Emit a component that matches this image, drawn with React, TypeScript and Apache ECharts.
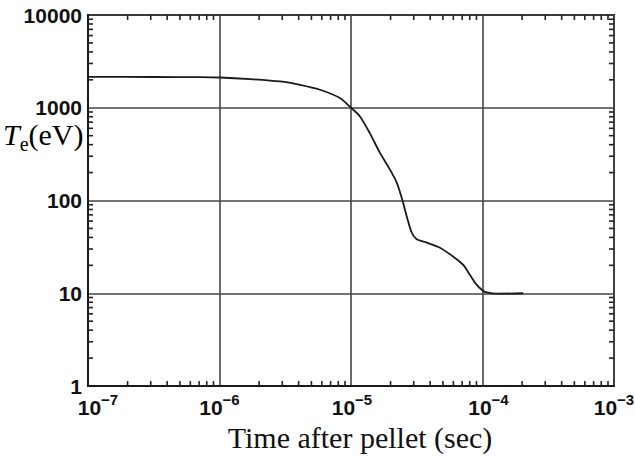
import React, { useEffect, useRef } from "react";
import * as echarts from "echarts";

const timeSec = [
  1e-7, 3.16e-7, 7.11e-7, 1.01e-6, 1.71e-6, 2.88e-6, 4.09e-6, 5.81e-6, 8.24e-6, 1e-5,
  1.17e-5, 1.39e-5, 1.66e-5, 1.98e-5, 2.23e-5, 2.43e-5, 2.65e-5, 2.9e-5, 3.16e-5, 3.77e-5,
  4.75e-5, 6.0e-5, 7.14e-5, 8.04e-5, 9.04e-5, 1.014e-4, 1.08e-4, 1.28e-4, 2.04e-4,
];
const teEv = [
  2150, 2145, 2140, 2120, 2035, 1920, 1766, 1563, 1272, 1000,
  806, 533, 326, 215, 155, 107, 67.8, 44.9, 38.1, 35.1,
  31.0, 24.8, 20.2, 15.7, 12.3, 10.6, 10.2, 9.9, 10.0,
];
const xDecades = [-7, -6, -5, -4];
const yDecades = [0, 1, 2, 3];
const minorMultipliers = [2, 3, 4, 5, 6, 7, 8, 9];

const xMin = 1e-7, xMax = 1e-3, yMin = 1, yMax = 10000;
const sans = "Liberation Sans, Arial, Helvetica, sans-serif";
const serif = "Liberation Serif, Times New Roman, serif";
// extra left offset (px) of each x tick label, as in the reference
const xLabelShift = [20, 0, 2, 12, 0];

export default function App() {
  const ref = useRef<HTMLDivElement>(null);
  useEffect(() => {
    if (!ref.current) return;
    const chart = echarts.init(ref.current, null, { renderer: "svg" });
    const xMinor: number[][] = [];
    xDecades.forEach((d) => minorMultipliers.forEach((m) => xMinor.push([m * Math.pow(10, d), yMin])));
    const yMinor: number[][] = [];
    yDecades.forEach((d) => minorMultipliers.forEach((m) => yMinor.push([xMin, m * Math.pow(10, d)])));
    const tickLen = 5;
    const tickStyle = { stroke: "#222", lineWidth: 1.6 };
    chart.setOption({
      animation: false,
      backgroundColor: "#fff",
      grid: {
        left: 88, right: 21, top: 15, bottom: 71,
        outerBoundsMode: "none",
        containLabel: false,
        show: true, borderColor: "#1a1a1a", borderWidth: 2, backgroundColor: "transparent",
      },
      xAxis: {
        type: "log", logBase: 10, min: xMin, max: xMax,
        axisLine: { show: true, lineStyle: { color: "#1a1a1a", width: 2 } },
        axisTick: { show: false },
        splitLine: { show: true, lineStyle: { color: "#444", width: 1.6 } },
        axisLabel: {
          margin: 6,
          formatter: (v: number, i: number) => {
            const e = Math.round(Math.log10(v));
            const sh = xLabelShift[i] || 0;
            return (sh ? "{g" + sh + "|}" : "") + "{b|10}{s|" + (e < 0 ? "−" + -e : String(e)) + "}";
          },
          rich: {
            b: { fontFamily: sans, fontWeight: "bold", fontSize: 21, color: "#111", lineHeight: 26, verticalAlign: "bottom" },
            s: { fontFamily: sans, fontWeight: "bold", fontSize: 15, color: "#111", lineHeight: 26, verticalAlign: "top" },
            g20: { width: 20, lineHeight: 26 },
            g12: { width: 12, lineHeight: 26 },
            g2: { width: 2, lineHeight: 26 },
          },
        },
        name: "Time after pellet (sec)",
        nameLocation: "middle",
        nameGap: 33,
        nameTextStyle: { fontFamily: serif, fontSize: 30, color: "#111", padding: [0, 0, 0, 18] },
      },
      yAxis: {
        type: "log", logBase: 10, min: yMin, max: yMax,
        axisLine: { show: true, lineStyle: { color: "#1a1a1a", width: 2 } },
        axisTick: { show: false },
        splitLine: { show: true, lineStyle: { color: "#444", width: 1.6 } },
        axisLabel: {
          margin: 6,
          fontFamily: sans,
          fontWeight: "bold", fontSize: 21, color: "#111",
          formatter: (v: number) => String(Math.round(v)),
        },
      },
      graphic: [
        {
          type: "text", left: 3, top: 119,
          style: {
            text: "{T|T}{e|e}{p|(eV)}",
            rich: {
              T: { fontFamily: serif, fontStyle: "italic", fontSize: 30, color: "#111", lineHeight: 35, verticalAlign: "top" },
              e: { fontFamily: serif, fontSize: 20, color: "#111", lineHeight: 35, verticalAlign: "bottom" },
              p: { fontFamily: serif, fontSize: 30, color: "#111", lineHeight: 35, verticalAlign: "top" },
            },
          },
        },
      ],
      series: [
        {
          type: "line", data: timeSec.map((t, i) => [t, teEv[i]]),
          showSymbol: false, smooth: 0.25,
          lineStyle: { color: "#1a1a1a", width: 1.8 },
        },
        {
          type: "custom", data: xMinor, silent: true, z: 5,
          renderItem: (_p: any, api: any) => {
            const b = api.coord([api.value(0), yMin]);
            const t = api.coord([api.value(0), yMax]);
            return {
              type: "group",
              children: [
                { type: "line", shape: { x1: b[0], y1: b[1], x2: b[0], y2: b[1] - tickLen }, style: tickStyle },
                { type: "line", shape: { x1: t[0], y1: t[1], x2: t[0], y2: t[1] + tickLen }, style: tickStyle },
              ],
            };
          },
        },
        {
          type: "custom", data: yMinor, silent: true, z: 5,
          renderItem: (_p: any, api: any) => {
            const l = api.coord([xMin, api.value(1)]);
            const r = api.coord([xMax, api.value(1)]);
            return {
              type: "group",
              children: [
                { type: "line", shape: { x1: l[0], y1: l[1], x2: l[0] + tickLen, y2: l[1] }, style: tickStyle },
                { type: "line", shape: { x1: r[0], y1: r[1], x2: r[0] - tickLen, y2: r[1] }, style: tickStyle },
              ],
            };
          },
        },
      ],
    });
    return () => chart.dispose();
  }, []);
  return <div ref={ref} style={{ position: "fixed", left: 0, top: 0, width: 635, height: 457 }} />;
}
